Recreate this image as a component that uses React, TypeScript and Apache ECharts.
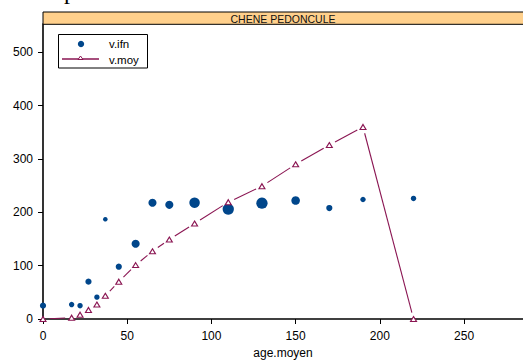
import React, { useEffect, useRef } from "react";
import * as echarts from "echarts";

// ---- data ----
const age = [0, 17, 22, 27, 32, 37, 45, 55, 65, 75, 90, 110, 130, 150, 170, 190, 220];
const vIfn = [25, 27, 25, 70, 41, 187, 98, 141, 218, 214, 218, 206, 217, 222, 208, 224, 226];
const effectif = [4, 3, 3, 4, 3, 2, 4, 7, 7, 7, 12, 14, 14, 8, 4, 3, 3];
const vMoy = [0, 2.4, 8, 17, 27, 43.5, 70, 101, 127, 149, 179, 219, 249, 290, 326, 360, 0];
const xTicks = [0, 50, 100, 150, 200, 250];
const yTicks = [0, 100, 200, 300, 400, 500];
const panelTitle = "CHENE PEDONCULE";
const legendLabels = ["v.ifn", "v.moy"];
const xName = "age.moyen";

const BLUE = "#00468B";
const PINK = "#8A1552";
const FONT = "'Liberation Sans', Arial, sans-serif";

export default function App() {
  const ref = useRef<HTMLDivElement>(null);
  useEffect(() => {
    if (!ref.current) return;
    const chart = echarts.init(ref.current, null, { renderer: "svg" });
    const ifnData = age.map((a, i) => [a, vIfn[i], effectif[i]]);
    const moyData = age.map((a, i) => [a, vMoy[i]]);
    const segData: number[][] = [];
    for (let i = 0; i < age.length - 1; i++) {
      segData.push([age[i], vMoy[i], age[i + 1], vMoy[i + 1]]);
    }
    const GAP = 6.5;
    chart.setOption({
      animation: false,
      grid: { left: 43, top: 24, right: 0, bottom: 41, containLabel: false, outerBoundsMode: "none" },
      xAxis: {
        type: "value",
        min: 0,
        max: 285,
        name: xName,
        nameLocation: "middle",
        nameGap: 25,
        nameTextStyle: { fontFamily: FONT, fontSize: 12, color: "#000" },
        axisLine: { show: true, lineStyle: { color: "#000", width: 1.6 } },
        axisTick: { show: true, length: 5, lineStyle: { color: "#000", width: 1 }, customValues: xTicks },
        axisLabel: { fontFamily: FONT, fontSize: 12, color: "#000", margin: 11, customValues: xTicks },
        splitLine: { show: false },
      },
      yAxis: {
        type: "value",
        min: 0,
        max: 553,
        axisLine: { show: true, lineStyle: { color: "#000", width: 1.6 } },
        axisTick: { show: true, length: 5, lineStyle: { color: "#000", width: 1 }, customValues: yTicks },
        axisLabel: { fontFamily: FONT, fontSize: 12, color: "#000", margin: 10, customValues: yTicks },
        splitLine: { show: false },
      },
      series: [
        {
          type: "custom",
          name: "v.moy.lines",
          clip: true,
          silent: true,
          data: segData,
          encode: { x: [0, 2], y: [1, 3] },
          renderItem: (params: any, api: any) => {
            const p1 = api.coord([api.value(0), api.value(1)]);
            const p2 = api.coord([api.value(2), api.value(3)]);
            const dx = p2[0] - p1[0];
            const dy = p2[1] - p1[1];
            const len = Math.sqrt(dx * dx + dy * dy);
            if (len <= 2 * GAP + 1) return null;
            const ux = dx / len, uy = dy / len;
            return {
              type: "line",
              shape: {
                x1: p1[0] + ux * GAP,
                y1: p1[1] + uy * GAP,
                x2: p2[0] - ux * GAP,
                y2: p2[1] - uy * GAP,
              },
              style: { stroke: PINK, lineWidth: 1.1 },
            };
          },
        },
        {
          type: "scatter",
          name: "v.ifn",
          data: ifnData,
          symbol: "circle",
          symbolSize: (v: number[]) => 2.9 * Math.sqrt(v[2]) + 0.4,
          itemStyle: { color: BLUE, opacity: 1 },
          silent: true,
        },
        {
          type: "scatter",
          name: "v.moy",
          data: moyData,
          symbol: "triangle",
          symbolSize: [6, 5],
          itemStyle: { color: "#fff", borderColor: PINK, borderWidth: 1.1, opacity: 1 },
          silent: true,
        },
      ],
      graphic: [
        {
          type: "text",
          left: 64,
          top: -21,
          style: { text: "p", fontFamily: "'Liberation Serif', serif", fontSize: 24, fill: "#000" },
        },
        {
          type: "rect",
          shape: { x: 43, y: 12, width: 490, height: 12.3 },
          style: { fill: "#FFD08C", stroke: "#000", lineWidth: 1 },
          z: 10,
        },
        {
          type: "text",
          x: 283,
          y: 18.5,
          style: {
            text: panelTitle,
            fontFamily: FONT,
            fontSize: 10.5,
            fill: "#111",
            align: "center",
            verticalAlign: "middle",
          },
          z: 11,
        },
        {
          type: "rect",
          shape: { x: 58.5, y: 34.5, width: 89, height: 33.5 },
          style: { fill: "#fff", stroke: "#000", lineWidth: 1 },
          z: 10,
        },
        {
          type: "circle",
          shape: { cx: 81, cy: 44, r: 3.2 },
          style: { fill: BLUE },
          z: 11,
        },
        {
          type: "line",
          shape: { x1: 62, y1: 59, x2: 99, y2: 59 },
          style: { stroke: PINK, lineWidth: 1.5 },
          z: 11,
        },
        {
          type: "polygon",
          shape: { points: [[80.5, 56], [78, 59.5], [83, 59.5]] },
          style: { fill: "#fff", stroke: PINK, lineWidth: 1 },
          z: 12,
        },
        {
          type: "text",
          x: 109,
          y: 44,
          style: { text: legendLabels[0], fontFamily: FONT, fontSize: 11.5, fill: "#000", verticalAlign: "middle" },
          z: 11,
        },
        {
          type: "text",
          x: 109,
          y: 60,
          style: { text: legendLabels[1], fontFamily: FONT, fontSize: 11.5, fill: "#000", verticalAlign: "middle" },
          z: 11,
        },
      ],
    });
    return () => chart.dispose();
  }, []);
  return (
    <div
      ref={ref}
      style={{ position: "absolute", left: 0, top: 0, width: 523, height: 360, background: "#fff" }}
    />
  );
}
